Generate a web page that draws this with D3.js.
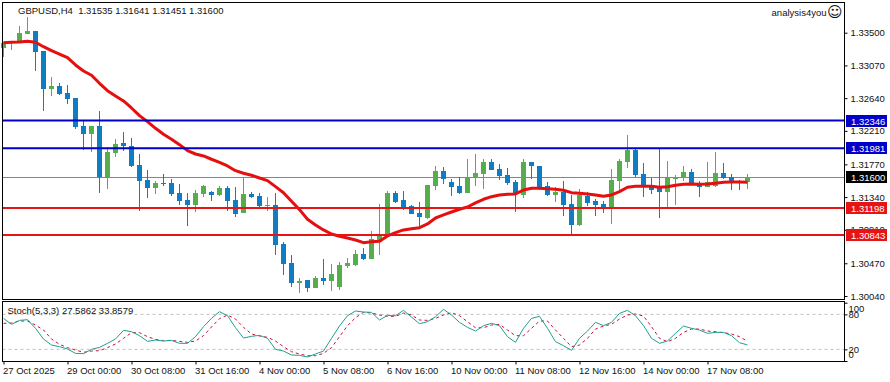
<!DOCTYPE html>
<html>
<head>
<meta charset="utf-8">
<script src="https://cdn.jsdelivr.net/npm/d3@7"></script>
<style>
    html, body { margin: 0; padding: 0; background: #fff; }
    svg { display: block; }
    text { font-family: "Liberation Sans", sans-serif; font-size: 9.5px; fill: #111; }
    .axis text { font-size: 9.5px; }
    .axis path { display: none; }
    .axis line { stroke: #000; }
</style>
</head>
<body>
<div id="chart"></div>
<script>
// GBPUSD H4 candles
const opens = [
    1.33303,1.33361,1.33395,1.33483,1.33523,1.33260,1.32764,1.32796,1.32704,1.32638,
    1.32274,1.32173,1.32274,1.31600,1.31924,1.32047,1.32012,1.31762,1.31565,1.31464,
    1.31529,1.31525,1.31394,1.31298,1.31240,1.31385,1.31407,1.31372,1.31460,1.31298,
    1.31135,1.31381,1.31355,1.31227,1.31236,1.30728,1.30474,1.30215,1.30251,1.30150,
    1.30277,1.30242,1.30163,1.30435,1.30448,1.30592,1.30531,1.30754,1.30842,1.31394,
    1.31302,1.31223,1.31131,1.31065,1.31486,1.31683,1.31539,1.31486,1.31394,1.31591,
    1.31644,1.31801,1.31709,1.31630,1.31539,1.31368,1.31801,1.31749,1.31486,1.31368,
    1.31407,1.31249,1.30973,1.31355,1.31289,1.31249,1.31210,1.31556,1.31801,1.31959,
    1.31644,1.31473,1.31473,1.31407,1.31578,1.31591,1.31670,1.31512,1.31473,1.31486,
    1.31657,1.31604,1.31552,1.31535];
const highs = [
    1.33382,1.33382,1.33588,1.33703,1.33523,1.33260,1.32914,1.32835,1.32817,1.32638,
    1.32344,1.32274,1.32471,1.32002,1.32100,1.32196,1.32117,1.31906,1.31696,1.31552,
    1.31644,1.31578,1.31512,1.31394,1.31433,1.31499,1.31420,1.31486,1.31486,1.31473,
    1.31608,1.31411,1.31394,1.31341,1.31394,1.30746,1.30575,1.30273,1.30251,1.30303,
    1.30527,1.30461,1.30487,1.30540,1.30645,1.30671,1.30895,1.31249,1.31420,1.31420,
    1.31420,1.31236,1.31276,1.31499,1.31749,1.31736,1.31578,1.31604,1.31841,1.31906,
    1.31841,1.31841,1.31775,1.31722,1.31565,1.31841,1.31801,1.31749,1.31539,1.31473,
    1.31552,1.31368,1.31443,1.31403,1.31315,1.31289,1.31709,1.31837,1.32156,1.31972,
    1.31788,1.31591,1.31985,1.31814,1.31630,1.31749,1.31709,1.31552,1.31801,1.31933,
    1.31788,1.31644,1.31565,1.31641];
const lows = [
    1.33177,1.33273,1.33382,1.33483,1.33001,1.32475,1.32673,1.32682,1.32567,1.32239,
    1.31959,1.31937,1.31398,1.31450,1.31871,1.31950,1.31740,1.31161,1.31332,1.31385,
    1.31490,1.31358,1.31240,1.30964,1.31148,1.31345,1.31293,1.31358,1.31161,1.31083,
    1.31127,1.31328,1.31180,1.31161,1.30583,1.30320,1.30163,1.30084,1.30097,1.30150,
    1.30189,1.30110,1.30123,1.30408,1.30435,1.30514,1.30531,1.30579,1.30829,1.31263,
    1.31171,1.31118,1.30951,1.31052,1.31433,1.31512,1.31355,1.31381,1.31394,1.31486,
    1.31447,1.31696,1.31565,1.31499,1.31144,1.31328,1.31578,1.31433,1.31355,1.31276,
    1.31092,1.30842,1.30960,1.31223,1.31092,1.31131,1.30987,1.31433,1.31722,1.31604,
    1.31341,1.31381,1.31065,1.31210,1.31236,1.31552,1.31499,1.31341,1.31473,1.31473,
    1.31578,1.31433,1.31433,1.31451];
const closes = [
    1.33369,1.33378,1.33496,1.33523,1.33251,1.32764,1.32800,1.32695,1.32633,1.32265,
    1.32173,1.32270,1.31600,1.31929,1.32038,1.32012,1.31753,1.31556,1.31464,1.31529,
    1.31516,1.31381,1.31293,1.31240,1.31394,1.31486,1.31372,1.31460,1.31293,1.31122,
    1.31381,1.31341,1.31227,1.31236,1.30715,1.30465,1.30215,1.30238,1.30150,1.30277,
    1.30242,1.30330,1.30448,1.30474,1.30592,1.30527,1.30790,1.30829,1.31394,1.31276,
    1.31210,1.31118,1.31079,1.31499,1.31683,1.31578,1.31473,1.31394,1.31600,1.31657,
    1.31801,1.31696,1.31617,1.31525,1.31381,1.31801,1.31749,1.31473,1.31368,1.31407,
    1.31236,1.30973,1.31368,1.31263,1.31236,1.31210,1.31565,1.31814,1.31959,1.31630,
    1.31499,1.31433,1.31407,1.31595,1.31600,1.31670,1.31525,1.31473,1.31539,1.31657,
    1.31591,1.31552,1.31539,1.31600];
const maValues = [
    1.33369,1.33374,1.33378,1.33387,1.33374,1.33316,1.33264,1.33220,1.33172,1.33076,
    1.32997,1.32941,1.32835,1.32738,1.32669,1.32603,1.32511,1.32410,1.32331,1.32244,
    1.32165,1.32100,1.32029,1.31950,1.31906,1.31880,1.31837,1.31797,1.31749,1.31687,
    1.31653,1.31627,1.31591,1.31556,1.31477,1.31397,1.31285,1.31175,1.31048,1.30973,
    1.30908,1.30855,1.30825,1.30803,1.30776,1.30741,1.30754,1.30759,1.30829,1.30872,
    1.30908,1.30925,1.30938,1.30987,1.31065,1.31105,1.31144,1.31180,1.31210,1.31263,
    1.31311,1.31345,1.31368,1.31377,1.31381,1.31433,1.31456,1.31456,1.31450,1.31443,
    1.31429,1.31398,1.31390,1.31381,1.31368,1.31351,1.31368,1.31411,1.31469,1.31482,
    1.31482,1.31482,1.31469,1.31477,1.31495,1.31508,1.31512,1.31508,1.31512,1.31521,
    1.31535,1.31539,1.31539,1.31535];
const stochK = [
    73.1,62.9,69.7,70.9,56.0,37.7,27.4,24.6,20.6,13.1,
    12.6,20.0,23.4,30.3,37.7,52.6,50.3,43.4,33.7,36.0,
    34.3,35.4,30.3,30.3,41.7,58.9,73.1,84.6,77.7,57.1,
    39.4,42.3,44.0,38.9,20.0,17.1,10.3,9.7,6.9,12.0,
    17.1,38.9,60.0,77.7,85.7,84.0,83.4,70.3,78.3,77.7,
    86.9,75.4,64.0,67.4,76.0,88.6,78.9,66.3,57.7,51.4,
    60.6,64.6,60.6,41.7,32.0,56.0,73.1,76.6,56.0,33.1,
    26.3,18.3,38.9,51.4,66.3,60.6,66.3,81.7,86.9,77.7,
    60.6,38.9,30.3,34.3,47.4,60.0,56.0,53.1,47.4,49.1,
    49.1,43.4,31.4,27.59];
const stochD = [
    64.6,65.1,68.6,68.6,61.7,53.1,37.7,28.6,22.9,18.9,
    14.9,17.1,17.7,22.9,29.1,38.9,48.6,48.6,41.7,37.1,
    34.9,35.4,33.7,32.0,34.3,43.4,58.3,72.6,78.9,72.0,
    57.7,46.3,42.9,40.6,34.3,24.6,16.0,12.0,9.1,9.1,
    13.1,22.9,41.7,60.6,74.3,83.4,82.3,78.9,76.6,76.6,
    82.3,78.9,70.3,69.7,73.1,78.9,82.9,77.7,67.4,57.1,
    57.1,61.7,62.9,53.1,43.4,43.4,56.0,68.6,68.6,53.1,
    38.9,24.6,27.4,38.9,54.8,60.0,62.9,72.0,78.9,80.6,
    77.1,58.9,38.9,33.1,38.9,49.1,54.8,54.8,51.4,50.3,
    48.6,46.3,41.7,33.86];

const priceTicks = [1.335, 1.3307, 1.3264, 1.3221, 1.3177, 1.3134, 1.3091, 1.3047, 1.3004];
const stochTicks = [100, 80, 20, 0];
const stochLevels = [80, 20];
const timeTickIdx = [0, 8, 16, 24, 32, 40, 48, 56, 64, 72, 80, 88];
const timeLabels = ['27 Oct 2025', '29 Oct 00:00', '30 Oct 08:00', '31 Oct 16:00', '4 Nov 00:00', '5 Nov 08:00',
    '6 Nov 16:00', '10 Nov 00:00', '11 Nov 08:00', '12 Nov 16:00', '14 Nov 00:00', '17 Nov 08:00'];
const blueLevels = [1.32346, 1.31981];
const redLevels = [1.31198, 1.30843];
const lastPrice = 1.316;

const width = 890, height = 382;
const left = 2.5, right = 844.5, mainTop = 2.5, mainBottom = 299.5, subTop = 301.5, subBottom = 361.5;
const upColor = '#55ae4b', downColor = '#0f7dc2';

const svg = d3.select('#chart').append('svg')
    .attr('width', width)
    .attr('height', height);

const xScale = d3.scaleLinear().domain([0, 93]).range([3.5, 747.5]);
const yScale = d3.scaleLinear().domain([1.29994, 1.33897]).range([mainBottom, mainTop]);
const stochScale = d3.scaleLinear().domain([0, 100]).range([361, 302.7]);

// current price line goes behind the candles
svg.append('line')
    .attr('x1', left).attr('x2', right)
    .attr('y1', Math.round(yScale(lastPrice)) + 0.5).attr('y2', Math.round(yScale(lastPrice)) + 0.5)
    .attr('stroke', '#778899');

const candles = svg.append('g').attr('shape-rendering', 'crispEdges')
    .selectAll('g')
    .data(opens.map((o, i) => ({i: i, o: o, h: highs[i], l: lows[i], c: closes[i]})))
    .join('g');

candles.append('line')
    .attr('x1', d => xScale(d.i)).attr('x2', d => xScale(d.i))
    .attr('y1', d => yScale(d.h)).attr('y2', d => yScale(d.l))
    .attr('stroke', d => d.c >= d.o ? upColor : downColor);

candles.append('rect')
    .attr('x', d => xScale(d.i) - 2.5)
    .attr('width', 5)
    .attr('y', d => yScale(Math.max(d.o, d.c)))
    .attr('height', d => Math.max(1, Math.abs(yScale(d.o) - yScale(d.c))))
    .attr('fill', d => d.c >= d.o ? upColor : downColor);

// moving average
svg.append('path')
    .datum(maValues)
    .attr('fill', 'none')
    .attr('stroke', '#e60f0f')
    .attr('stroke-width', 3)
    .attr('stroke-linejoin', 'round')
    .attr('d', d3.line().x((d, i) => xScale(i)).y(d => yScale(d)));

function drawLevels(levels, color) {
    svg.append('g').selectAll('line')
        .data(levels)
        .join('line')
        .attr('x1', left).attr('x2', right)
        .attr('y1', d => yScale(d)).attr('y2', d => yScale(d))
        .attr('stroke', color)
        .attr('stroke-width', 2);
}
drawLevels(blueLevels, '#0000c8');
drawLevels(redLevels, '#e61414');

// stochastic panel
svg.append('g').selectAll('line')
    .data(stochLevels)
    .join('line')
    .attr('x1', left).attr('x2', right)
    .attr('y1', d => stochScale(d)).attr('y2', d => stochScale(d))
    .attr('stroke', '#c0c0c0')
    .attr('stroke-dasharray', '3,3');

let stochLine = d3.line().x((d, i) => xScale(i)).y(d => stochScale(d));

svg.append('path')
    .datum(stochD)
    .attr('fill', 'none')
    .attr('stroke', '#c8103c')
    .attr('stroke-dasharray', '3,3')
    .attr('d', stochLine);

svg.append('path')
    .datum(stochK)
    .attr('fill', 'none')
    .attr('stroke', '#20a090')
    .attr('d', stochLine);

// frames
[[mainTop, mainBottom], [subTop, subBottom]].forEach(p => {
    svg.append('rect')
        .attr('x', left).attr('y', p[0])
        .attr('width', right - left).attr('height', p[1] - p[0])
        .attr('fill', 'none')
        .attr('stroke', '#000')
        .attr('shape-rendering', 'crispEdges');
});

// axes
let priceAxis = svg.append('g')
    .attr('class', 'axis')
    .attr('transform', `translate(${right}, 0)`)
    .call(d3.axisRight(yScale).tickValues(priceTicks).tickSize(3).tickPadding(3).tickFormat(d3.format('.5f')));

let stochAxis = svg.append('g')
    .attr('class', 'axis')
    .attr('transform', `translate(${right}, 0)`)
    .call(d3.axisRight(stochScale).tickValues(stochTicks).tickSize(3).tickPadding(1));
// 100 and 0 are pulled inside the panel in the original
stochAxis.selectAll('text')
    .attr('dy', d => d === 100 ? '0.9em' : d === 0 ? '-0.4em' : '0.32em');

let timeAxis = svg.append('g')
    .attr('class', 'axis')
    .attr('transform', `translate(0, ${subBottom})`)
    .call(d3.axisBottom(xScale).tickValues(timeTickIdx).tickSize(3).tickPadding(3)
        .tickFormat((d, i) => timeLabels[i]));
timeAxis.selectAll('text').attr('text-anchor', 'start').attr('dx', '-1');

// price tags
const tags = [
    {v: blueLevels[0], c: '#0000c8'},
    {v: blueLevels[1], c: '#0000c8'},
    {v: lastPrice, c: '#000'},
    {v: redLevels[0], c: '#e61414'},
    {v: redLevels[1], c: '#e61414'}
];
let tagG = svg.append('g').selectAll('g').data(tags).join('g')
    .attr('transform', d => `translate(846, ${Math.round(yScale(d.v))})`);
tagG.append('rect')
    .attr('x', 0).attr('y', -6)
    .attr('width', 41).attr('height', 12)
    .attr('fill', d => d.c);
tagG.append('text')
    .attr('x', 5).attr('y', 3.5)
    .style('fill', '#fff')
    .text(d => d3.format('.5f')(d.v));

// titles
svg.append('text').attr('x', 18).attr('y', 14).attr('xml:space', 'preserve')
    .text('GBPUSD,H4  1.31535 1.31641 1.31451 1.31600');
svg.append('text').attr('x', 7.5).attr('y', 314)
    .text('Stoch(5,3,3) 27.5862 33.8579');
svg.append('text').attr('x', 826.5).attr('y', 15.5).attr('text-anchor', 'end')
    .text('analysis4you');
svg.append('text').attr('x', 827).attr('y', 17)
    .style('font-family', '"DejaVu Sans"').style('font-size', '15px')
    .text('\u263A');
</script>
</body>
</html>
